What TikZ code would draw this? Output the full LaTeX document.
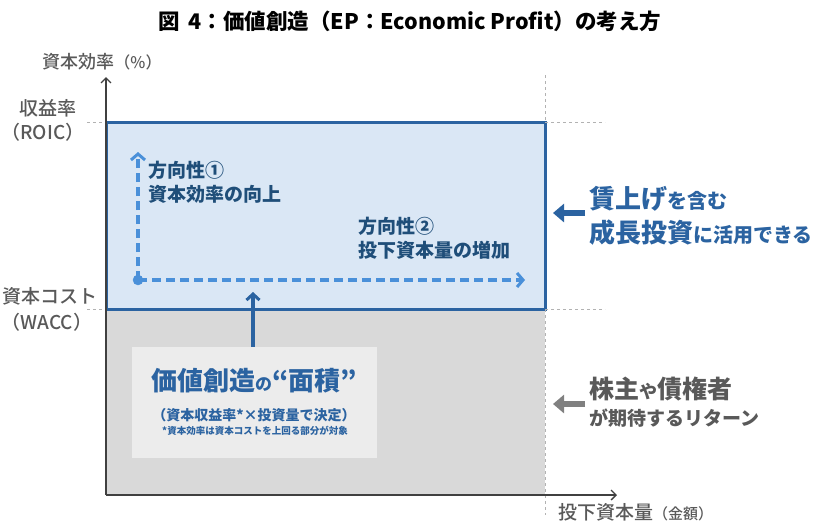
\documentclass[tikz,border=0pt]{standalone}
\usepackage{fontspec}
\setmainfont{Noto Sans CJK JP}
\newfontfamily\jpmed{Noto Sans CJK JP Medium}
\usetikzlibrary{arrows.meta}
\definecolor{navy}{HTML}{1F4E79}
\definecolor{epblue}{HTML}{2B63A1}
\definecolor{dashblue}{HTML}{4A90D9}
\definecolor{paleblue}{HTML}{DAE7F5}
\definecolor{areagray}{HTML}{D9D9D9}
\definecolor{boxgray}{HTML}{ECECEC}
\definecolor{txtgray}{HTML}{595959}
\definecolor{axisgray}{HTML}{404040}
\newcommand\fs[1]{\fontsize{#1}{#1}\selectfont}

\begin{document}
\begin{tikzpicture}[x=1pt,y=-1pt,
    guide/.style={gray!60,dashed,thin},
    lbl/.style={text=txtgray,inner sep=0pt,font=\jpmed},
    dir/.style={text=navy,anchor=west,inner sep=0pt,font=\fs{19}\bfseries},
    dashpath/.style={dashblue,line width=3.8pt,dash pattern=on 9pt off 5pt,
        -{Straight Barb[length=6pt,width=14pt,line width=3pt]}},
    fatarrow/.style={line width=6pt,-{Triangle[length=11pt,width=18pt]}}]

    \useasboundingbox (0,0) rectangle (819,523);

    \node (title) at (410,21) {\fs{21.5}\bfseries 図\hspace{0.4em}4：価値創造（EP：Economic Profit）の考え方};

    % corners of the chart
    \coordinate (o) at (106,495);
    \coordinate (ytip) at (106,77);
    \coordinate (xtip) at (617,495);
    \coordinate (roicl) at (87,122);
    \coordinate (roicr) at (605,122);
    \coordinate (waccl) at (87,309);
    \coordinate (waccr) at (605,309);
    \coordinate (limtop) at (545,75);
    \coordinate (limbot) at (545,515);

    \fill[areagray] (106,309) rectangle (545,495);
    \filldraw[fill=paleblue,draw=epblue,line width=3pt] (106,122) rectangle (545,309);

    \draw[guide] (roicl) -- (106,122);
    \draw[guide] (545,122) -- (roicr);
    \draw[guide] (waccl) -- (106,309);
    \draw[guide] (545,309) -- (waccr);
    \draw[guide] (limtop) -- (545,122);
    \draw[guide] (545,309) -- (limbot);

    \draw[axisgray,line width=1.3pt,-{Straight Barb[length=5pt,width=10pt]}] (o) -- (ytip);
    \draw[axisgray,line width=1.3pt,-{Straight Barb[length=5pt,width=10pt]}] (o) -- (xtip);

    \node[lbl] (ylab) at (102,62) {\fs{18}資本効率\fs{16}（\%）};
    \node[lbl] (roic1) at (48,108) {\fs{19}収益率};
    \node[lbl] (roic2) at (43,132) {\fs{19}（ROIC）};
    \node[lbl,anchor=east] (wacc1) at (98,296) {\fs{19}資本コスト};
    \node[lbl] (wacc2) at (47,322) {\fs{19}（WACC）};
    \node[lbl,anchor=west] (xlab) at (558,512) {\fs{19}投下資本量\fs{15}（金額）};

    % two directions
    \coordinate (start) at (138,280);
    \coordinate (up) at (138,152);
    \coordinate (right) at (525,280);
    \draw[dashpath] (start) -- (up);
    \draw[dashpath] (start) -- (right);
    \filldraw[dashblue] (start) circle (5pt);

    \node[dir] (dir1a) at (148,170) {方向性①};
    \node[dir] (dir1b) at (148,194) {資本効率の向上};
    \node[dir] (dir2a) at (358,226) {方向性②};
    \node[dir] (dir2b) at (358,250) {投下資本量の増加};

    % area box
    \node[fill=boxgray,minimum width=245pt,minimum height=111pt] (area) at (254.5,402.5) {};
    \node[text=epblue,inner sep=0pt] (areatxt) at (254,381) {\fs{26}\bfseries 価値創造\fs{17}の\fs{26}“面積”};
    \node[text=epblue,inner sep=0pt] (rule) at (254,415) {\fs{14}\bfseries （資本収益率*×投資量で決定）};
    \node[text=epblue,inner sep=0pt] (note) at (255,431) {\fs{9.5}\bfseries *資本効率は資本コストを上回る部分が対象};
    \coordinate (hit) at (253,292);
    \draw[epblue,line width=3.5pt,-{Straight Barb[length=6pt,width=13pt,line width=3pt]}] (area.north -| hit) -- (hit);

    % right side
    \node[text=epblue,anchor=west,inner sep=0pt] (wage) at (589,199) {\fs{26}\bfseries 賃上げ\fs{20}を含む};
    \node[text=epblue,anchor=west,inner sep=0pt] (growth) at (589,233) {\fs{26}\bfseries 成長投資\fs{20}に活用できる};
    \node[text=txtgray,anchor=west,inner sep=0pt] (owners) at (589,389) {\fs{25}\bfseries 株主\fs{18}や\fs{25}債権者};
    \node[text=txtgray,anchor=west,inner sep=0pt] (yield) at (589,418) {\fs{19}\bfseries が期待するリターン};
    \coordinate (bluetail) at (585,213);
    \coordinate (bluehead) at (553,213);
    \coordinate (graytail) at (585,404);
    \coordinate (grayhead) at (553,404);
    \draw[epblue,fatarrow] (bluetail) -- (bluehead);
    \draw[gray,fatarrow] (graytail) -- (grayhead);
\end{tikzpicture}
\end{document}
